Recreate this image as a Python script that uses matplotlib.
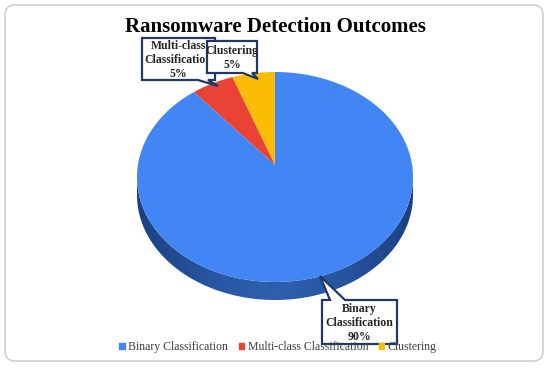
import numpy as np
import matplotlib.pyplot as plt
import matplotlib.patches as patches
from matplotlib.colors import LinearSegmentedColormap

# data
labels = ["Binary Classification", "Multi-class Classification", "Clustering"]
values = [90, 5, 5]
colors = ["#4285F4", "#EA4335", "#FBBC05"]
callout_text = ["Binary\nClassification\n90%", "Multi-class\nClassification\n5%", "Clustering\n5%"]

W, H = 550, 369
CX, CY = 275, 177      # ellipse centre (pixels)
A, B = 138, 105        # ellipse radii
APEX = (275, 165)      # where the slices meet (perspective)
DEPTH = 18
NAVY = "#1F3864"

fig = plt.figure(figsize=(5.5, 3.69), dpi=100)
ax = fig.add_axes([0, 0, 1, 1])
ax.set_xlim(0, W)
ax.set_ylim(H, 0)
ax.axis("off")

# outer rounded border
ax.add_patch(patches.FancyBboxPatch((5, 5), 538, 356, boxstyle="round,pad=0,rounding_size=10",
                                    fc="white", ec="#D0D0D0", lw=1.2, zorder=0))

# side of the 3d pie
t = np.linspace(0, np.pi, 200)
top_x = CX + A * np.cos(t)
top_y = CY + B * np.sin(t)
side_xy = np.concatenate([np.column_stack([top_x, top_y]),
                          np.column_stack([top_x[::-1], top_y[::-1] + DEPTH])])
side = patches.Polygon(side_xy, closed=True, fc="none", ec="none", zorder=1)
ax.add_patch(side)
grad = np.abs(np.linspace(-1, 1, 256)) ** 1.5
grad = np.tile(grad, (10, 1))
cmap = LinearSegmentedColormap.from_list("side", ["#2D5FAE", "#1B4080"])
img = ax.imshow(grad, cmap=cmap, extent=(CX - A, CX + A, CY + B + DEPTH, CY - 5),
                aspect="auto", zorder=1, interpolation="bilinear")
img.set_clip_path(side)
ax.set_xlim(0, W)
ax.set_ylim(H, 0)

# top face slices, counter-clockwise from 12 o'clock: Clustering, Multi-class, Binary
order = [2, 1, 0]
start = 90.0
for i in order:
    span = 360.0 * values[i] / sum(values)
    th = np.radians(np.linspace(start, start + span, 200))
    pts = np.column_stack([CX + A * np.cos(th), CY - B * np.sin(th)])
    pts = np.vstack([[APEX], pts])
    ax.add_patch(patches.Polygon(pts, closed=True, fc=colors[i], ec="none", zorder=2))
    start += span


def callout(x0, y0, x1, y1, tail, text, z, fs=8.5):
    # box outline with a pointer tail on one edge
    (ta, tb, tip, edge) = tail
    if edge == "top":
        pts = [(x0, y0), (ta, y0), tip, (tb, y0), (x1, y0), (x1, y1), (x0, y1)]
    else:
        pts = [(x0, y0), (x1, y0), (x1, y1), (tb, y1), tip, (ta, y1), (x0, y1)]
    box = patches.Polygon(pts, closed=True, fc="white", ec=NAVY, lw=1.6, zorder=z)
    ax.add_patch(box)
    t = ax.text((x0 + x1) / 2, (y0 + y1) / 2 + 1, text, ha="center", va="center", fontsize=fs,
                fontweight="bold", family="Liberation Serif", color="#262626", zorder=z + 0.5,
                linespacing=1.25)
    t.set_clip_path(box)


callout(142, 38, 215, 80, (198, 208, (218, 86), "bottom"), callout_text[1], 4)
callout(207, 41, 257, 73, (243, 252, (258, 79), "bottom"), callout_text[2], 5)
callout(322, 300, 397, 344, (330, 345, (320, 276), "top"), callout_text[0], 4)

# title
ax.text(275, 27, "Ransomware Detection Outcomes", ha="center", va="center", fontsize=15,
        fontweight="bold", family="Liberation Serif", color="black", zorder=5)

# legend
handles = [patches.Patch(color=c) for c in colors]
leg = fig.legend(handles, labels, loc="center", bbox_to_anchor=(278 / W, 1 - 347 / H), ncol=3,
                 frameon=False, handlelength=0.45, handleheight=0.45, handletextpad=0.3,
                 columnspacing=0.9, prop={"family": "Liberation Serif", "size": 8.5})
for txt in leg.get_texts():
    txt.set_color("#404040")
leg.set_zorder(3)

fig.savefig("out.png", dpi=100)
